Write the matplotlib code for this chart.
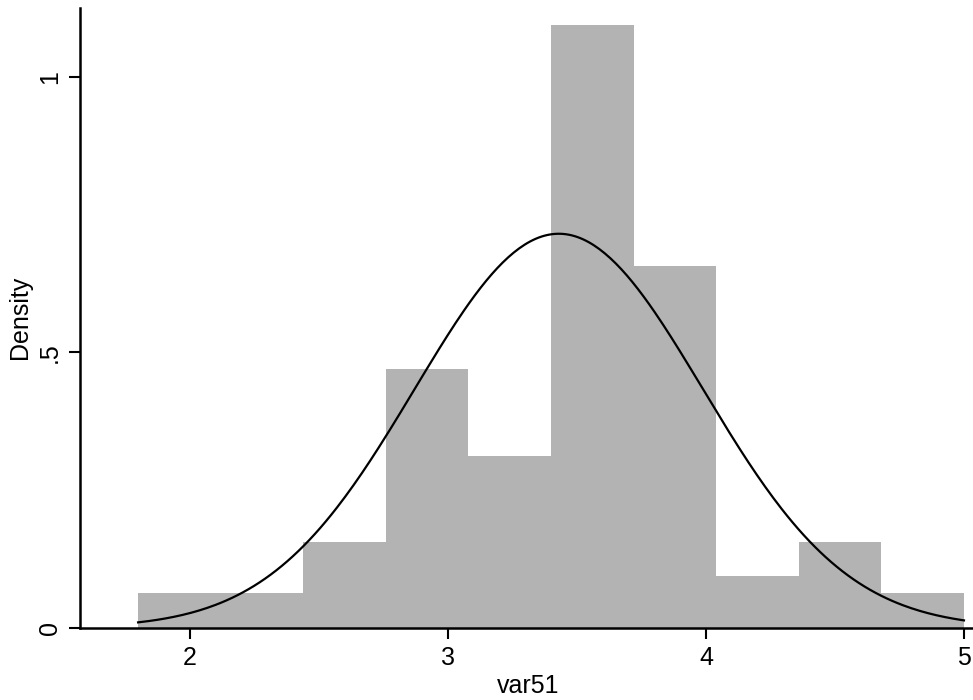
import numpy as np
import matplotlib.pyplot as plt

plt.rcParams['font.family'] = ['Liberation Sans', 'DejaVu Sans']

# histogram of var51: bin edges and density heights
bin_edges = [1.80, 2.12, 2.44, 2.76, 3.08, 3.40, 3.72, 4.04, 4.36, 4.68, 5.00]
density = [0.0625, 0.0625, 0.156, 0.469, 0.3125, 1.094, 0.656, 0.094, 0.156, 0.0625]

# fitted normal curve
norm_mean = 3.43
norm_sd = 0.558

xticks = [2, 3, 4, 5]
yticks = [0, 0.5, 1]
ytick_labels = ['0', '.5', '1']

fig = plt.figure(figsize=(9.73, 7), dpi=100)
ax = fig.add_axes([0.082, 0.103, 0.918, 0.886])

edges = np.array(bin_edges)
ax.bar(edges[:-1], density, width=np.diff(edges), align='edge',
       color='#b3b3b3', edgecolor='none')

xs = np.linspace(edges[0], edges[-1], 300)
pdf = np.exp(-0.5 * ((xs - norm_mean) / norm_sd) ** 2) / (norm_sd * np.sqrt(2 * np.pi))
ax.plot(xs, pdf, color='black', lw=1.6)

ax.set_xlim(1.574, 5.035)
ax.set_ylim(0, 1.125)
ax.set_xticks(xticks)
ax.set_yticks(yticks)
ax.set_yticklabels(ytick_labels, rotation=90, va='center')
ax.tick_params(axis='both', direction='out', length=8, width=1.5,
               labelsize=18, color='black', pad=5)

for side in ['top', 'right']:
    ax.spines[side].set_visible(False)
for side in ['left', 'bottom']:
    ax.spines[side].set_linewidth(1.8)

ax.set_xlabel('var51', fontsize=18, labelpad=0)
ax.set_ylabel('Density', fontsize=18, labelpad=0)
ax.xaxis.set_label_coords(0.502, -0.075)
ax.yaxis.set_label_coords(-0.053, 0.5)

fig.savefig('out.png', dpi=100)
